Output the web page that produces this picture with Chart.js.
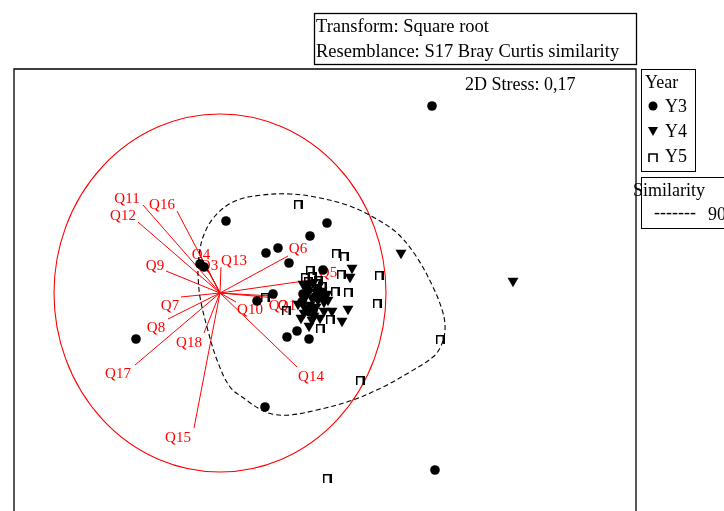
<!DOCTYPE html>
<html>
<head>
<meta charset="utf-8">
<script src="https://cdn.jsdelivr.net/npm/chart.js@4/dist/chart.umd.min.js"></script>
<style>
  html, body { margin: 0; padding: 0; background: #fff; overflow: hidden; }
</style>
</head>
<body>
<canvas id="nmds" width="724" height="511"></canvas>
<script>
// nMDS ordination, coordinates (plot units)
const y3X = [432, 226, 327, 310, 278, 266, 289, 200, 204, 136, 273, 257, 309, 297, 287, 313, 323, 303, 308, 315, 302, 310, 318, 265, 435];
const y3Y = [106, 221, 223, 236, 248, 253, 263, 264, 267, 339, 294, 301, 339, 331, 337, 311, 270, 294, 290, 297, 302, 312, 290, 407, 470];

const y4X = [401, 513, 352, 350, 348, 342, 332, 324, 312, 305, 303, 308, 313, 318, 322, 306, 312, 318, 324, 310, 316, 322, 327, 304, 314, 320, 301, 309, 328, 298, 316];
const y4Y = [253, 281, 268, 277, 309, 321, 311, 311, 320, 308, 284, 285, 283, 287, 291, 296, 298, 300, 302, 305, 307, 296, 294, 313, 316, 318, 318, 326, 300, 304, 292];

const y5X = [298, 336, 344, 341, 379, 335, 348, 377, 330, 320, 310, 305, 312, 318, 308, 316, 265, 286, 440, 360, 327, 322];
const y5Y = [204, 253, 256, 274, 275, 291, 292, 303, 319, 328, 270, 277, 276, 280, 281, 283, 297, 310, 339, 380, 478, 286];

// 90% similarity contour
const contourX = [198, 203, 215, 235, 262, 290, 315, 347, 373, 397, 416, 433, 443, 445, 441, 433, 410, 383, 353, 317, 290, 272, 258, 245, 230, 217, 207, 200, 198, 198];
const contourY = [262, 237, 216, 201, 195, 194, 197, 205, 217, 233, 256, 287, 313, 330, 346, 357, 372, 387, 400, 410, 415, 414, 408, 399, 387, 360, 327, 297, 275, 262];

// variable vectors (Pearson correlation overlay)
const vecOrigin = [220, 293];
const vecCircleR = [166, 179];
const vecNames = ['Q1', 'Q2', 'Q3', 'Q4', 'Q5', 'Q6', 'Q7', 'Q8', 'Q9', 'Q10', 'Q11', 'Q12', 'Q13', 'Q14', 'Q15', 'Q16', 'Q17', 'Q18'];
const vecEndX = [276, 272, 204, 199, 318, 288, 181, 168, 166, 236, 143, 138, 221, 297, 194, 177, 135, 204];
const vecEndY = [298, 296, 262, 254, 279, 256, 297, 319, 271, 302, 205, 222, 267, 367, 428, 211, 365, 333];
const vecLabX = [287, 278, 209, 201, 328, 298, 170, 156, 155, 250, 127, 123, 234, 311, 178, 162, 118, 189];
const vecLabY = [306, 306, 266, 255, 273, 249, 306, 328, 266, 310, 199, 216, 261, 377, 438, 205, 374, 343];

const SERIF = '"Liberation Serif", "Times New Roman", serif';

const pts = (xs, ys) => xs.map((x, i) => ({ x: x, y: ys[i] }));

// open-bottom square marker used for Y5
function makeGate(size) {
    const c = document.createElement('canvas');
    c.width = size; c.height = size;
    const g = c.getContext('2d');
    g.strokeStyle = '#000';
    g.lineWidth = 2;
    g.beginPath();
    g.moveTo(1, size);
    g.lineTo(1, 1);
    g.lineTo(size - 1, 1);
    g.lineTo(size - 1, size);
    g.stroke();
    return c;
}
const gate = makeGate(9);

function drawGate(ctx, x, y) {
    ctx.save();
    ctx.strokeStyle = '#000';
    ctx.lineWidth = 1.6;
    ctx.beginPath();
    ctx.moveTo(x - 4, y + 4);
    ctx.lineTo(x - 4, y - 4);
    ctx.lineTo(x + 4, y - 4);
    ctx.lineTo(x + 4, y + 4);
    ctx.stroke();
    ctx.restore();
}

const vectorPlugin = {
    id: 'vectors',
    beforeDatasetsDraw(chart) {
        const ctx = chart.ctx;
        const sx = chart.scales.x, sy = chart.scales.y;
        const ox = sx.getPixelForValue(vecOrigin[0]);
        const oy = sy.getPixelForValue(vecOrigin[1]);
        const rx = Math.abs(sx.getPixelForValue(vecOrigin[0] + vecCircleR[0]) - ox);
        const ry = Math.abs(sy.getPixelForValue(vecOrigin[1] + vecCircleR[1]) - oy);
        ctx.save();
        ctx.strokeStyle = '#ff0000';
        ctx.lineWidth = 1.1;
        ctx.beginPath();
        ctx.ellipse(ox, oy, rx, ry, 0, 0, Math.PI * 2);
        ctx.stroke();
        ctx.lineWidth = 1;
        vecNames.forEach((n, i) => {
            ctx.beginPath();
            ctx.moveTo(ox, oy);
            ctx.lineTo(sx.getPixelForValue(vecEndX[i]), sy.getPixelForValue(vecEndY[i]));
            ctx.stroke();
        });
        ctx.fillStyle = '#ff0000';
        ctx.font = '15px ' + SERIF;
        ctx.textAlign = 'center';
        ctx.textBaseline = 'middle';
        vecNames.forEach((n, i) => {
            ctx.fillText(n, sx.getPixelForValue(vecLabX[i]), sy.getPixelForValue(vecLabY[i]));
        });
        ctx.restore();
    },
    afterDraw(chart) {
        const ctx = chart.ctx;
        const a = chart.chartArea;
        ctx.save();
        ctx.strokeStyle = '#000';
        ctx.lineWidth = 1.3;
        // plot frame (bottom edge is off the page)
        ctx.beginPath();
        ctx.moveTo(a.left, a.bottom + 5);
        ctx.lineTo(a.left, a.top);
        ctx.lineTo(a.right, a.top);
        ctx.lineTo(a.right, a.bottom + 5);
        ctx.stroke();

        ctx.fillStyle = '#000';
        ctx.font = '18.5px ' + SERIF;
        ctx.textBaseline = 'middle';
        ctx.textAlign = 'left';
        // header box
        ctx.strokeRect(314.5, 13.5, 322, 51);
        ctx.fillText('Transform: Square root', 316, 27);
        ctx.fillText('Resemblance: S17 Bray Curtis similarity', 316, 52);
        // stress
        ctx.font = '18px ' + SERIF;
        ctx.fillText('2D Stress: 0,17', 465, 85);

        // year legend
        ctx.lineWidth = 1;
        ctx.strokeRect(641.5, 69.5, 54, 102);
        ctx.fillText('Year', 645, 83);
        ctx.fillText('Y3', 665, 107);
        ctx.fillText('Y4', 665, 132);
        ctx.fillText('Y5', 665, 157);
        ctx.beginPath();
        ctx.arc(653, 106, 4.5, 0, Math.PI * 2);
        ctx.fill();
        ctx.beginPath();
        ctx.moveTo(648, 127);
        ctx.lineTo(658, 127);
        ctx.lineTo(653, 136);
        ctx.closePath();
        ctx.fill();
        drawGate(ctx, 653, 158);

        // similarity legend
        ctx.strokeRect(641.5, 177.5, 90, 51);
        ctx.fillText('Similarity', 633, 191);
        ctx.fillText('-------', 654, 213);
        ctx.fillText('90', 708, 215);
        ctx.restore();
    }
};

new Chart(document.getElementById('nmds'), {
    type: 'scatter',
    data: {
        datasets: [
            {
                label: 'Similarity 90',
                data: pts(contourX, contourY),
                showLine: true,
                borderColor: '#000',
                borderWidth: 1.1,
                borderDash: [5, 3],
                pointRadius: 0,
                tension: 0.35,
                fill: false,
                order: 3
            },
            {
                label: 'Y5',
                data: pts(y5X, y5Y),
                pointStyle: gate,
                pointRadius: 4.5,
                order: 2
            },
            {
                label: 'Y4',
                data: pts(y4X, y4Y),
                pointStyle: 'triangle',
                rotation: 180,
                pointRadius: 6.3,
                backgroundColor: '#000',
                borderColor: '#000',
                borderWidth: 0,
                order: 1
            },
            {
                label: 'Y3',
                data: pts(y3X, y3Y),
                pointStyle: 'circle',
                pointRadius: 4.8,
                backgroundColor: '#000',
                borderColor: '#000',
                borderWidth: 0,
                order: 0
            }
        ]
    },
    options: {
        responsive: false,
        animation: false,
        layout: { autoPadding: false, padding: { left: 14, top: 69, right: 88, bottom: 0 } },
        plugins: {
            legend: { display: false },
            tooltip: { enabled: false }
        },
        scales: {
            x: { type: 'linear', min: 14, max: 636, display: false },
            y: { type: 'linear', min: 69, max: 511, reverse: true, display: false }
        }
    },
    plugins: [vectorPlugin]
});
</script>
</body>
</html>
